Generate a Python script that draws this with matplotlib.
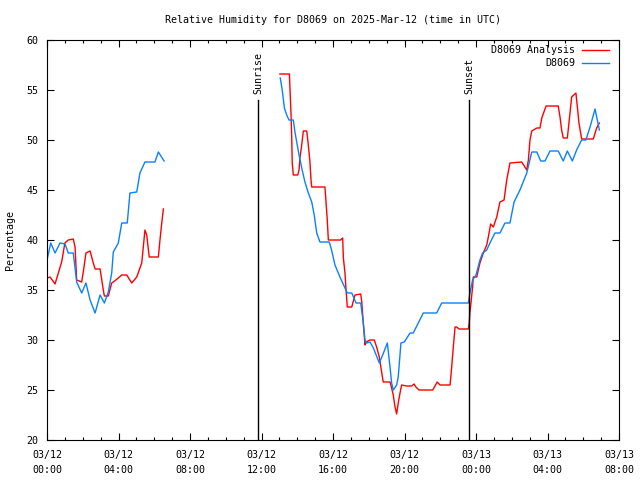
import numpy as np
import matplotlib
matplotlib.use("Agg")
import matplotlib.pyplot as plt
from matplotlib.ticker import MultipleLocator

plt.rcParams['font.family'] = ['DejaVu Sans Mono']

title = "Relative Humidity for D8069 on 2025-Mar-12 (time in UTC)"
ylabel = "Percentage"
series_names = ["D8069 Analysis", "D8069"]

# hours since 03/12 00:00 UTC
red_t1 = [0.0, 0.17, 0.45, 0.82, 1.0, 1.19, 1.47, 1.57, 1.66, 1.94, 2.03, 2.18, 2.41, 2.59, 2.69, 2.97,
          3.15, 3.21, 3.43, 3.62, 3.71, 3.99, 4.18, 4.46, 4.74, 5.02, 5.20, 5.30, 5.48, 5.58, 5.72,
          6.23, 6.32, 6.42, 6.51]
red_v1 = [36.2, 36.3, 35.6, 37.8, 39.7, 40.0, 40.1, 39.3, 36.0, 35.8, 36.8, 38.7, 38.9, 37.7, 37.1, 37.1,
          35.0, 34.4, 34.4, 35.7, 35.8, 36.2, 36.5, 36.5, 35.7, 36.3, 37.2, 37.7, 41.0, 40.5, 38.3,
          38.3, 40.0, 41.7, 43.1]

blue_t1 = [0.0, 0.21, 0.45, 0.73, 1.01, 1.19, 1.47, 1.66, 1.94, 2.18, 2.41, 2.69, 2.97, 3.21, 3.43,
           3.62, 3.71, 3.99, 4.18, 4.49, 4.64, 5.02, 5.20, 5.48, 6.04, 6.23, 6.55]
blue_v1 = [38.0, 39.7, 38.7, 39.7, 39.6, 38.7, 38.7, 35.8, 34.7, 35.7, 34.0, 32.7, 34.5, 33.7, 34.8,
           36.7, 38.8, 39.7, 41.7, 41.7, 44.7, 44.8, 46.7, 47.8, 47.8, 48.8, 47.9]

red_t2 = [13.03, 13.56, 13.59, 13.65, 13.69, 13.72, 13.78, 14.03, 14.10, 14.15, 14.25, 14.34, 14.53,
          14.62, 14.71, 14.77, 14.81, 15.55, 15.68, 15.74, 16.43, 16.54, 16.58, 16.67, 16.73, 16.80,
          17.05, 17.23, 17.55, 17.61, 17.69, 17.79, 17.85, 18.07, 18.31, 18.44, 18.59, 18.72, 18.81,
          19.19, 19.28, 19.37, 19.47, 19.56, 19.65, 19.75, 19.84, 20.12, 20.40, 20.53, 20.64, 20.81,
          21.58, 21.83, 21.99, 22.55, 22.64, 22.73, 22.83, 22.92, 23.05, 23.57, 23.62, 23.66, 23.81,
          23.85, 24.04, 24.22, 24.41, 24.60, 24.69, 24.82, 24.97, 25.16, 25.34, 25.57, 25.72, 25.90,
          26.56, 26.84, 26.93, 27.02, 27.12, 27.40, 27.58, 27.68, 27.92, 28.60, 28.70, 28.79, 28.88,
          29.11, 29.26, 29.35, 29.59, 29.67, 29.76, 29.91, 30.56, 30.75, 30.90]
red_v2 = [56.6, 56.6, 55.3, 52.7, 50.3, 47.7, 46.5, 46.5, 47.0, 48.2, 49.5, 50.9, 50.9,
          49.5, 47.8, 46.0, 45.3, 45.3, 42.0, 40.0, 40.0, 40.2, 38.2, 36.7, 35.0, 33.3,
          33.3, 34.5, 34.6, 33.8, 31.8, 29.5, 29.8, 30.0, 30.0, 29.3, 28.3, 26.8, 25.8,
          25.8, 25.2, 24.5, 23.3, 22.6, 23.7, 24.7, 25.5, 25.4, 25.4, 25.6, 25.3, 25.0,
          25.0, 25.8, 25.5, 25.5, 27.3, 29.3, 31.3, 31.3, 31.1, 31.1, 31.7, 32.7, 35.3,
          36.3, 36.3, 37.7, 38.7, 39.5, 40.3, 41.6, 41.3, 42.3, 43.8, 44.0, 46.0, 47.7,
          47.8, 47.0, 48.0, 50.0, 50.9, 51.2, 51.2, 52.2, 53.4, 53.4, 52.3, 51.0, 50.2,
          50.2, 52.7, 54.3, 54.7, 53.3, 51.7, 50.1, 50.1, 51.2, 51.7]

blue_t2 = [13.05, 13.16, 13.28, 13.41, 13.54, 13.78, 13.87, 13.97, 14.10, 14.25, 14.43, 14.62, 14.81,
           14.94, 15.09, 15.27, 15.79, 15.92, 16.11, 16.39, 16.67, 16.80, 17.05, 17.29, 17.55, 17.69,
           17.79, 17.88, 18.07, 18.26, 18.59, 18.78, 19.04, 19.19, 19.28, 19.37, 19.56, 19.65, 19.80,
           19.99, 20.31, 20.49, 21.05, 21.80, 22.08, 23.57, 23.66, 23.81, 24.00, 24.22, 24.37, 24.60,
           24.78, 25.06, 25.34, 25.62, 25.90, 26.13, 26.46, 26.84, 27.12, 27.40, 27.62, 27.86, 28.14,
           28.60, 28.88, 29.11, 29.39, 29.63, 29.91, 30.15, 30.38, 30.66, 30.90]
blue_v2 = [56.2, 55.0, 53.2, 52.5, 52.0, 52.0, 50.8, 49.8, 48.5, 47.2, 45.8, 44.7, 43.8,
           42.6, 40.7, 39.8, 39.8, 39.0, 37.5, 36.3, 35.2, 34.7, 34.7, 33.7, 33.7, 31.8,
           30.0, 29.7, 29.8, 29.2, 27.7, 28.5, 29.7, 27.3, 25.7, 25.0, 25.5, 26.3, 29.7,
           29.8, 30.7, 30.7, 32.7, 32.7, 33.7, 33.7, 34.7, 36.0, 36.5, 38.0, 38.7, 39.0,
           39.7, 40.7, 40.7, 41.7, 41.7, 43.8, 45.0, 46.7, 48.8, 48.8, 47.9, 47.9, 48.9,
           48.9, 47.9, 48.9, 47.9, 49.0, 50.0, 50.0, 51.3, 53.1, 51.0]

sun_events = {"Sunrise": 11.80, "Sunset": 23.61}
sun_line_top = 54

xtick_hours = [0, 4, 8, 12, 16, 20, 24, 28, 32]
xtick_labels = ["03/12\n00:00", "03/12\n04:00", "03/12\n08:00", "03/12\n12:00", "03/12\n16:00",
                "03/12\n20:00", "03/13\n00:00", "03/13\n04:00", "03/13\n08:00"]
yticks = [20, 25, 30, 35, 40, 45, 50, 55, 60]

red = "#ff0000"
blue = "#0a80ff"

fig = plt.figure(figsize=(6.4, 4.8), dpi=100)
ax = fig.add_axes([47/640, 40/480, (619-47)/640, 400/480])

for t, v in [(red_t1, red_v1), (red_t2, red_v2)]:
    ax.plot(t, v, color=red, lw=1.0)
for t, v in [(blue_t1, blue_v1), (blue_t2, blue_v2)]:
    ax.plot(t, v, color=blue, lw=1.0)

for name, h in sun_events.items():
    ax.plot([h, h], [20, sun_line_top], color="black", lw=1.0)
    ax.text(h, sun_line_top + 0.6, name, rotation=90, ha="center", va="bottom", fontsize=7.2)

ax.set_xlim(0, 32)
ax.set_ylim(20, 60)
ax.set_xticks(xtick_hours)
ax.set_xticklabels(xtick_labels, fontsize=7.2, linespacing=1.7)
ax.set_yticks(yticks)
ax.set_yticklabels([str(y) for y in yticks], fontsize=7.2)
ax.xaxis.set_minor_locator(MultipleLocator(1))
ax.tick_params(which="both", direction="in", top=True, right=True)
ax.tick_params(axis="x", which="major", pad=7)
ax.tick_params(axis="y", which="major", pad=6)
ax.tick_params(which="major", length=5, width=0.8)
ax.tick_params(which="minor", length=2.5, width=0.8)
for s in ax.spines.values():
    s.set_linewidth(0.8)

ax.set_title(title, fontsize=7.2, pad=12)
fig.text(10/640, 0.5, ylabel, rotation=90, ha="center", va="center", fontsize=7.2)

# legend
for i, (name, col) in enumerate(zip(series_names, [red, blue])):
    yy = 1 - (10 + 13 * i) / 400
    ax.text(0.923, yy, name, transform=ax.transAxes, ha="right", va="center", fontsize=7.2)
    ax.plot([0.935, 0.983], [yy, yy], transform=ax.transAxes, color=col, lw=1.0)

fig.savefig("out.png", dpi=100)
